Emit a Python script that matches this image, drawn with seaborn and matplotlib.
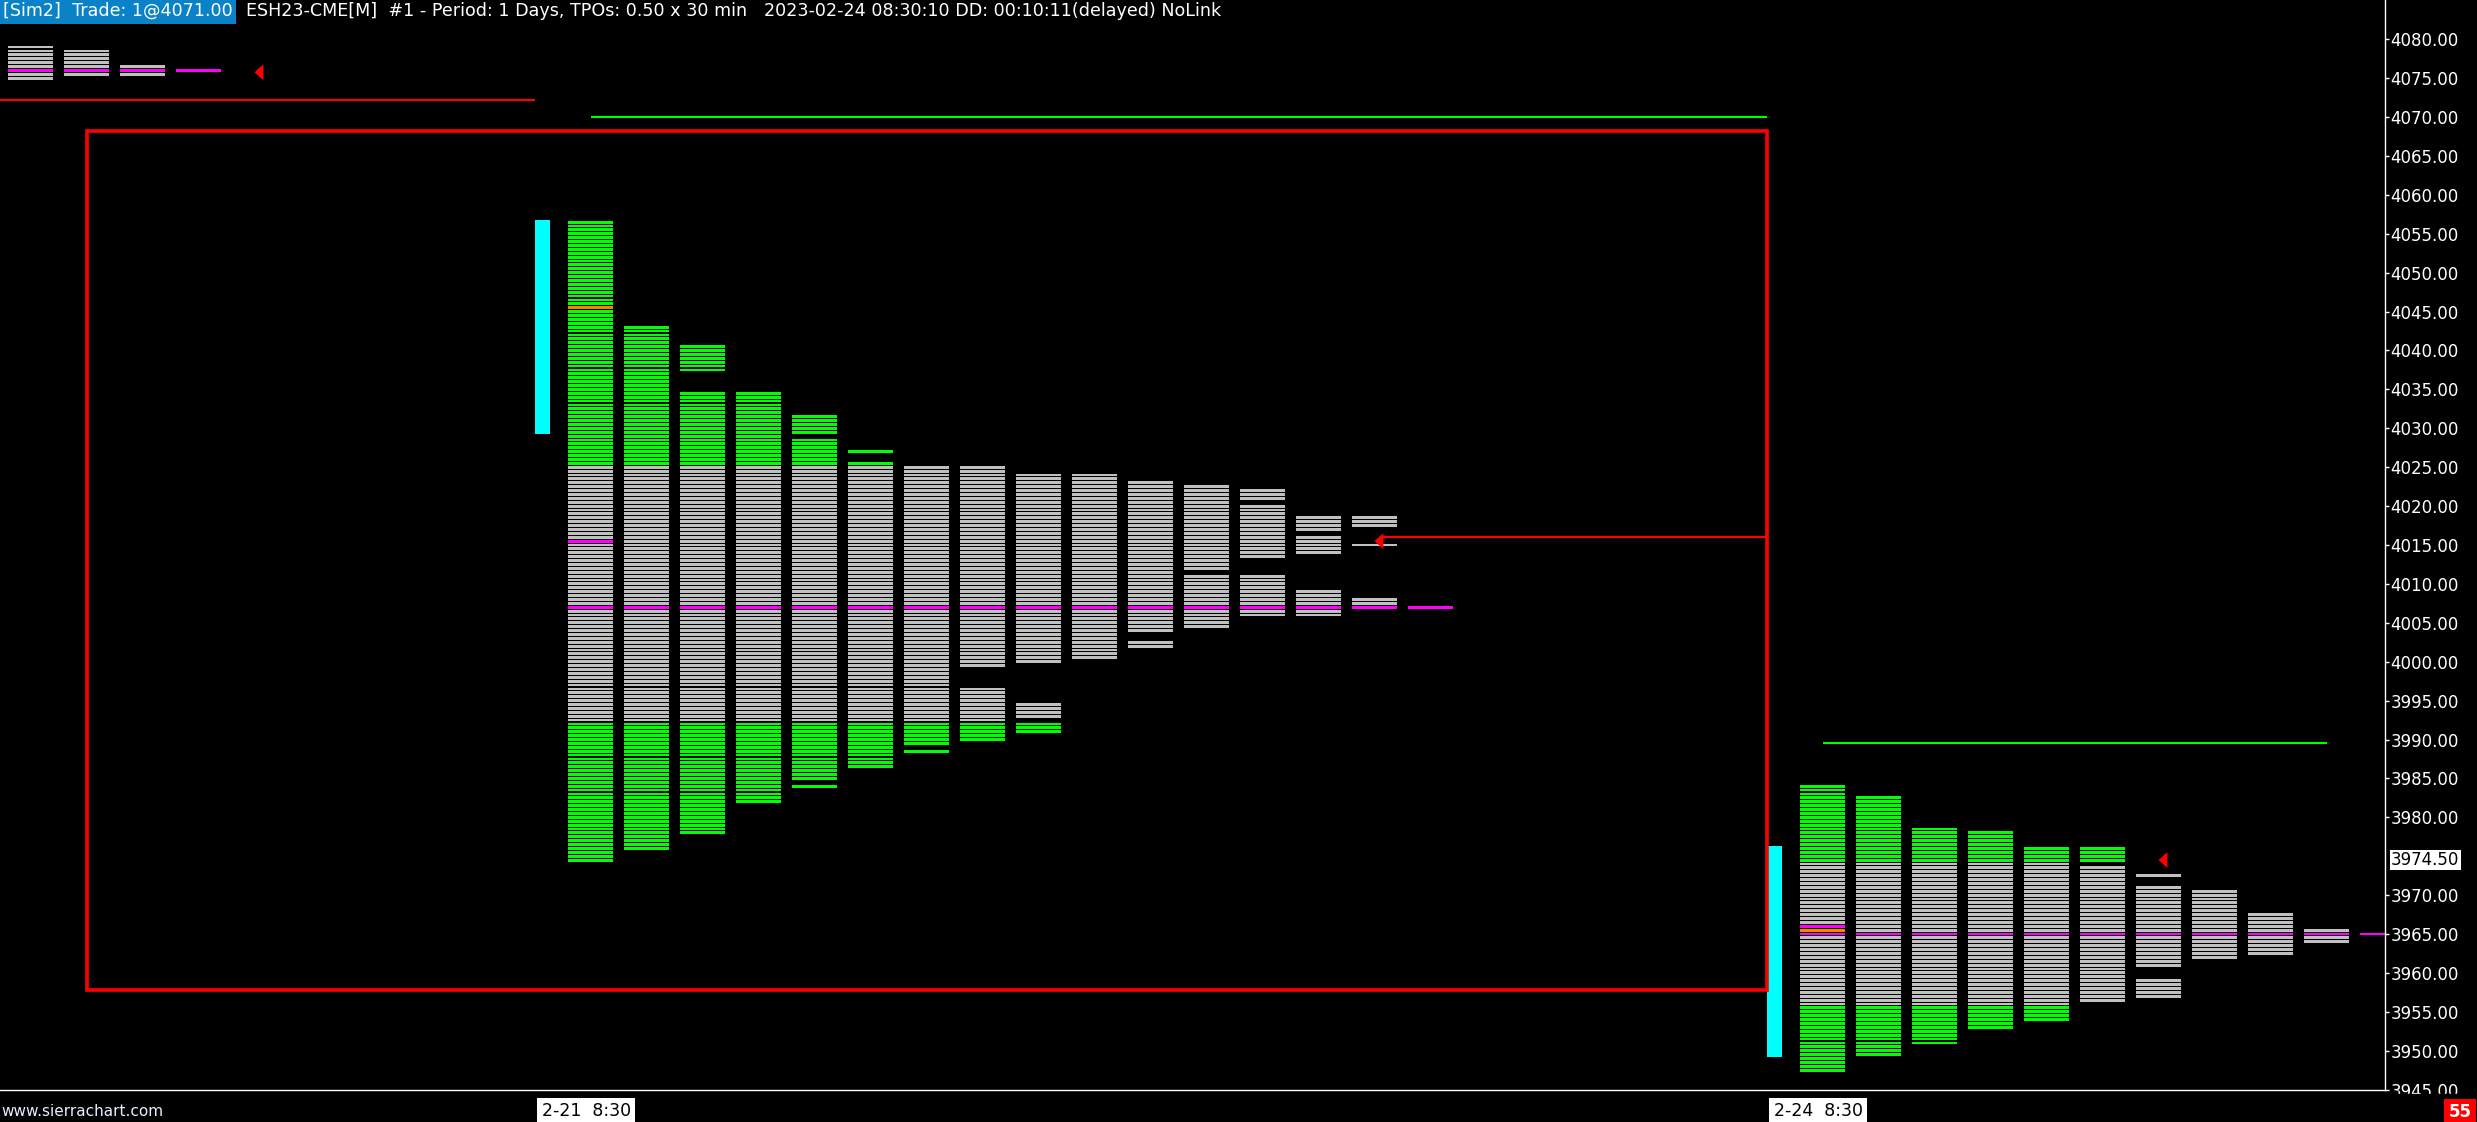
import numpy as np
import matplotlib
matplotlib.use('Agg')
import matplotlib.pyplot as plt
from matplotlib.patches import Rectangle
from matplotlib.markers import MarkerStyle
from matplotlib.ticker import FormatStrFormatter
import seaborn as sns

TICK = 0.5  # TPO row size

# previous session (top-left corner, mostly scrolled off)
prev_start = 0
prev_columns = [
    [(4075.0, 4079.0)],
    [(4075.5, 4078.5)],
    [(4075.5, 4076.5)],
]
prev_va = (4075.0, 4079.0)
prev_poc = 4076.0

# 2-21 session
feb21_start = 10
feb21_columns = [
    [(3974.5, 4056.5)],
    [(3976.0, 4043.0)],
    [(3978.0, 4034.5), (4037.5, 4040.5)],
    [(3982.0, 4034.5)],
    [(3984.0, 3984.0), (3985.0, 4028.5), (4029.5, 4031.5)],
    [(3986.5, 4025.5), (4027.0, 4027.0)],
    [(3988.5, 3988.5), (3989.5, 4025.0)],
    [(3990.0, 3996.5), (3999.5, 4025.0)],
    [(3991.0, 3992.0), (3993.0, 3994.5), (4000.0, 4024.0)],
    [(4000.5, 4024.0)],
    [(4002.0, 4002.5), (4004.0, 4023.0)],
    [(4004.5, 4011.0), (4012.0, 4022.5)],
    [(4006.0, 4011.0), (4013.5, 4020.0), (4021.0, 4022.0)],
    [(4006.0, 4009.0), (4014.0, 4016.0), (4017.0, 4018.5)],
    [(4007.0, 4008.0), (4015.0, 4015.0), (4017.5, 4018.5)],
]
feb21_va = (3992.5, 4025.0)
feb21_poc = 4007.0
feb21_open = 4045.5
feb21_mark = 4015.5
feb21_ib = (4029.5, 4056.5)

# 2-24 session
feb24_start = 32
feb24_columns = [
    [(3947.5, 3984.0)],
    [(3949.5, 3982.5)],
    [(3951.0, 3978.5)],
    [(3953.0, 3978.0)],
    [(3954.0, 3976.0)],
    [(3956.5, 3973.5), (3974.5, 3976.0)],
    [(3957.0, 3959.0), (3961.0, 3971.0), (3972.5, 3972.5)],
    [(3962.0, 3970.5)],
    [(3962.5, 3967.5)],
    [(3964.0, 3965.5)],
]
feb24_va = (3956.0, 3974.0)
feb24_poc = 3965.0
feb24_open = 3965.5
feb24_mark = 3966.0
feb24_ib = (3949.5, 3976.0)

# last price arrows: column, price
last_cols = [4, 24, 38]
last_prices = [4075.75, 4015.5, 3974.5]
last_price = 3974.5

# drawn lines / rectangle
red_line_price, red_line_cols = 4072.25, (-1, 9)
green_line1_price, green_line1_cols = 4070.0, (10, 31)
green_line2_price, green_line2_cols = 3989.5, (32, 41)
close_line_price, close_line_cols = 4016.0, (24.15, 31)
box_cols, box_prices = (1, 31), (3957.75, 4068.25)

date_cols = [9, 31]
date_labels = ['2-21  8:30', '2-24  8:30']
price_ticks = [t for t in range(3945, 4081, 5) if abs(t - last_price) > 2]

GREEN, GRAY, MAGENTA, ORANGE, CYAN, RED = '#00ff00', '#c0c0c0', '#ff00ff', '#ff8000', '#00ffff', '#ff0000'

sns.set_theme(style='dark', rc={'axes.facecolor': 'black', 'figure.facecolor': 'black',
                                'axes.edgecolor': 'white', 'text.color': 'white',
                                'xtick.color': 'white', 'ytick.color': 'white',
                                'axes.grid': False})
plt.rcParams['font.family'] = ['DejaVu Sans']

W, H = 2477, 1122
PX = 56.0  # pixels per column slot
fig = plt.figure(figsize=(W / 100, H / 100), dpi=100)
ax = fig.add_axes([0, 32 / H, 2385 / W, 1090 / H])
ax.set_xlim(-30.5 / PX, (2385 - 30.5) / PX)
ax.set_ylim(3944.95, 4085.05)

COL_W = 45 / PX
ROW_H = 2.85 / 7.78


def draw_profile(ax, start, columns, va, poc, open_px=None, mark_px=None, ib=None):
    ys, lefts, cols = [], [], []
    for k, ranges in enumerate(columns):
        for lo, hi in ranges:
            for p in np.arange(lo, hi + TICK / 2, TICK):
                if p == poc or (k == 0 and p == mark_px):
                    c = MAGENTA
                elif k == 0 and p == open_px:
                    c = ORANGE
                elif va[0] <= p <= va[1]:
                    c = GRAY
                else:
                    c = GREEN
                ys.append(p)
                lefts.append(start + k - COL_W / 2)
                cols.append(c)
    # POC line continues one slot past the profile
    ys.append(poc)
    lefts.append(start + len(columns) - COL_W / 2)
    cols.append(MAGENTA)
    ax.barh(ys, COL_W, left=lefts, height=ROW_H, color=cols, linewidth=0, antialiased=False)
    if ib is not None:
        ax.bar(start - 1, ib[1] - ib[0] + TICK, bottom=ib[0] - TICK / 2, width=15 / PX,
               align='edge', color=CYAN, linewidth=0, antialiased=False)


draw_profile(ax, prev_start, prev_columns, prev_va, prev_poc)
draw_profile(ax, feb21_start, feb21_columns, feb21_va, feb21_poc, feb21_open, feb21_mark, feb21_ib)
draw_profile(ax, feb24_start, feb24_columns, feb24_va, feb24_poc, feb24_open, feb24_mark, feb24_ib)

# lines
ax.hlines(red_line_price, *red_line_cols, color=RED, lw=1.5)
ax.hlines(green_line1_price, *green_line1_cols, color=GREEN, lw=1.5)
ax.hlines(green_line2_price, *green_line2_cols, color=GREEN, lw=1.5)
ax.hlines(close_line_price, *close_line_cols, color=RED, lw=1.6)
ax.add_patch(Rectangle((box_cols[0], box_prices[0]), box_cols[1] - box_cols[0],
                       box_prices[1] - box_prices[0], fill=False, edgecolor=RED, lw=2.6,
                       joinstyle='miter'))

# last price arrows
arrow = MarkerStyle([(0, 0), (1, 0.9), (1, -0.9)])
sns.scatterplot(x=last_cols, y=last_prices, marker=arrow, s=164, color=RED,
                edgecolor='none', linewidth=0, ax=ax, zorder=5, legend=False)

# axes styling
for side in ['left', 'top']:
    ax.spines[side].set_visible(False)
for side in ['right', 'bottom']:
    ax.spines[side].set_color('white')
    ax.spines[side].set_linewidth(1)
ax.yaxis.tick_right()
ax.set_yticks(price_ticks)
ax.yaxis.set_major_formatter(FormatStrFormatter('%.2f'))
ax.tick_params(axis='y', colors='white', labelsize=12, length=3, width=1, pad=1, direction='out')
ax.set_xticks([])
ax.set_xlabel('')
ax.set_ylabel('')

for col, lbl in zip(date_cols, date_labels):
    ax.annotate(lbl, xy=(col, 0), xycoords=ax.get_xaxis_transform(),
                xytext=(7, -12), textcoords='offset pixels', ha='left', va='top',
                color='black', fontsize=12.5, annotation_clip=False,
                bbox=dict(facecolor='white', edgecolor='none', pad=3))

ax.annotate(f'{last_price:.2f}', xy=(1, last_price), xycoords=ax.get_yaxis_transform(),
            xytext=(6, 0), textcoords='offset pixels', ha='left', va='center',
            color='black', fontsize=12,
            bbox=dict(facecolor='white', edgecolor='none', pad=1))

# header line
fig.text(3 / W, 1 - 11 / H, '[Sim2]  Trade: 1@4071.00', ha='left', va='center', color='white',
         fontsize=12.6, bbox=dict(boxstyle='square,pad=0.2', facecolor='#0a82c8', edgecolor='none'))
fig.text(246 / W, 1 - 11 / H,
         'ESH23-CME[M]  #1 - Period: 1 Days, TPOs: 0.50 x 30 min   2023-02-24 08:30:10 DD: 00:10:11(delayed) NoLink',
         ha='left', va='center', color='white', fontsize=12.6)

# bottom strip
fig.add_artist(Rectangle((2386 / W, 0), 91 / W, 28 / H, transform=fig.transFigure,
                         color='black', zorder=3))
fig.text(1 / W, 11 / H, 'www.sierrachart.com', ha='left', va='center', color='#e6eeff',
         fontsize=11)
fig.text(2460 / W, 10 / H, '55', ha='center', va='center', color='white', fontsize=12,
         fontweight='bold', zorder=4,
         bbox=dict(boxstyle='square,pad=0.25', facecolor=RED, edgecolor='none'))

fig.savefig('out.png', dpi=100, facecolor='black')
